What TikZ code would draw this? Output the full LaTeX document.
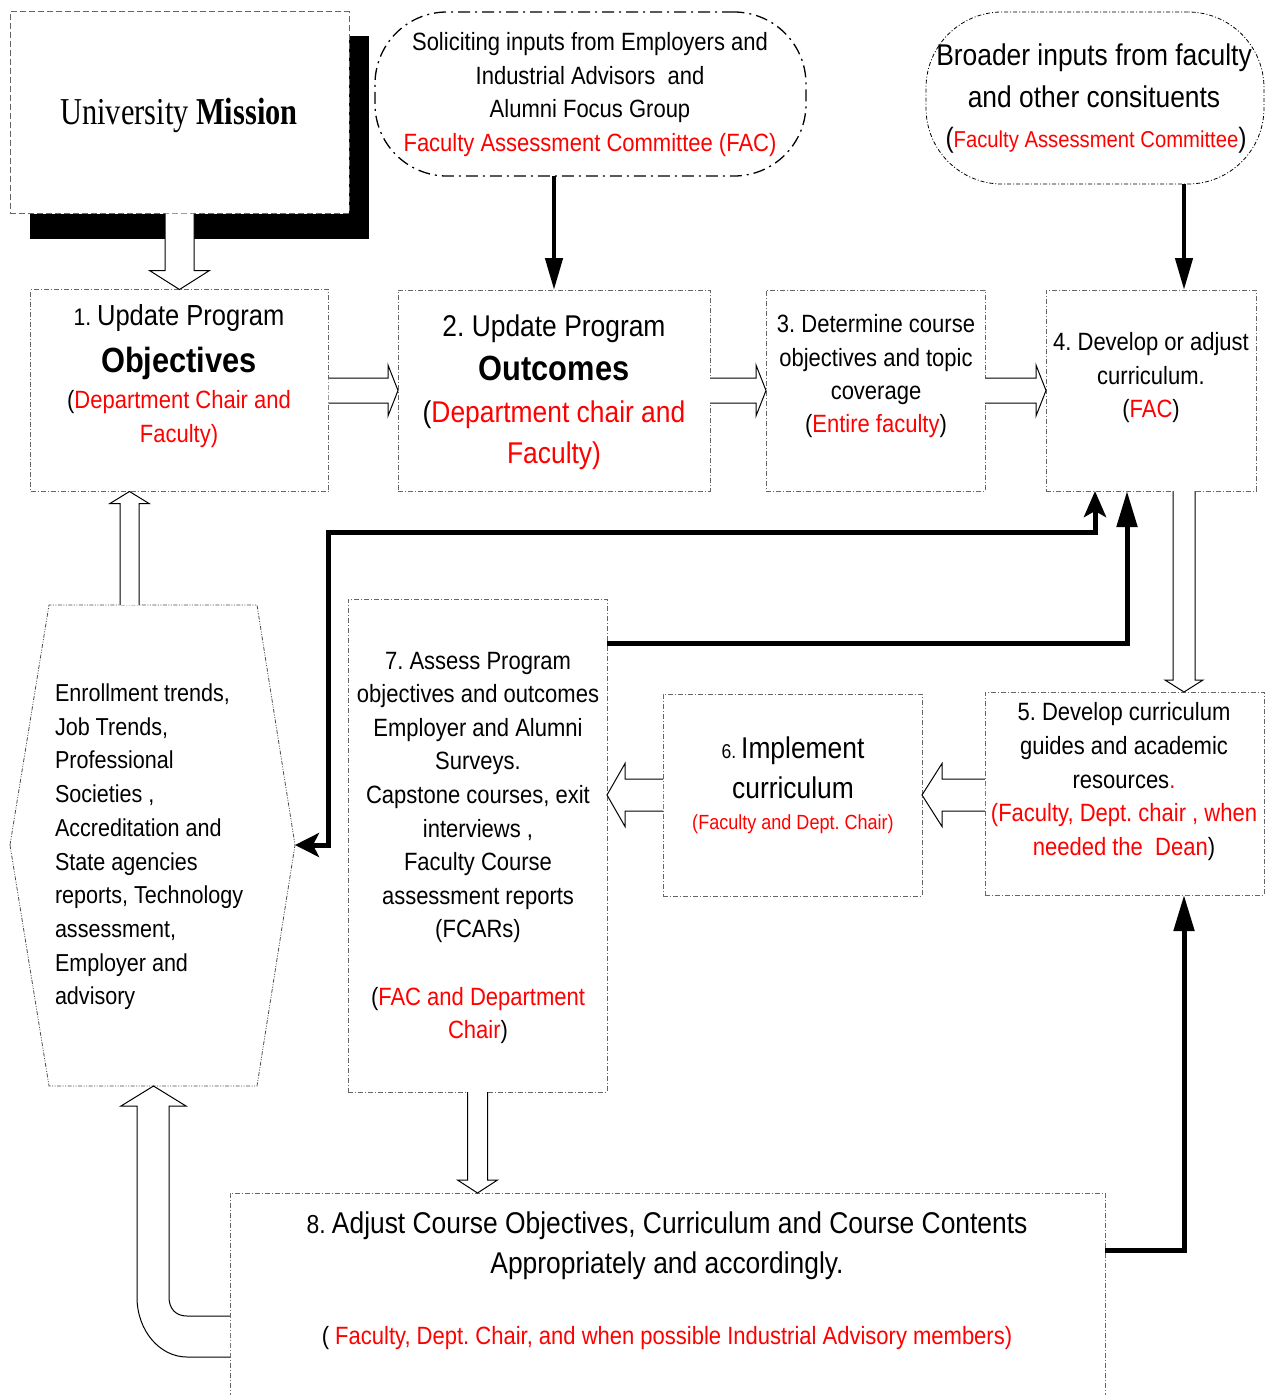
\documentclass[tikz,border=0pt]{standalone}
\usepackage{fontspec}
\setmainfont{Liberation Sans}[FakeStretch=0.88]
\newfontfamily\timesf{Liberation Serif}[FakeStretch=0.8]
\usetikzlibrary{arrows.meta,calc}
\definecolor{rd}{RGB}{255,0,0}
\newcommand\fs[1]{\fontsize{#1pt}{#1pt}\selectfont}
\newcommand\rt[1]{\textcolor{rd}{#1}}
% block arrows: start, tip, shaft half width, head half width, head length
\newcommand\barR[5]{\filldraw[barrow] let \p1=(#1),\p2=(#2) in (\x1,\y2+#3) -- (\x2-#5,\y2+#3) -- (\x2-#5,\y2+#4) -- (\p2) -- (\x2-#5,\y2-#4) -- (\x2-#5,\y2-#3) -- (\x1,\y2-#3);}
\newcommand\barL[5]{\filldraw[barrow] let \p1=(#1),\p2=(#2) in (\x1,\y2+#3) -- (\x2+#5,\y2+#3) -- (\x2+#5,\y2+#4) -- (\p2) -- (\x2+#5,\y2-#4) -- (\x2+#5,\y2-#3) -- (\x1,\y2-#3);}
\newcommand\barD[5]{\filldraw[barrow] let \p1=(#1),\p2=(#2) in (\x2-#3,\y1) -- (\x2-#3,\y2+#5) -- (\x2-#4,\y2+#5) -- (\p2) -- (\x2+#4,\y2+#5) -- (\x2+#3,\y2+#5) -- (\x2+#3,\y1);}
\newcommand\barU[5]{\filldraw[barrow] let \p1=(#1),\p2=(#2) in (\x2-#3,\y1) -- (\x2-#3,\y2-#5) -- (\x2-#4,\y2-#5) -- (\p2) -- (\x2+#4,\y2-#5) -- (\x2+#3,\y2-#5) -- (\x2+#3,\y1);}
\begin{document}
\frenchspacing
\begin{tikzpicture}[x=1pt,y=-1pt,
  box/.style={draw=black!60, line width=0.9pt, dash pattern=on 5pt off 2pt on 1pt off 2pt, fill=white, inner sep=0pt, outer sep=0pt},
  oval/.style={draw=black, fill=white, inner sep=0pt, outer sep=0pt},
  tx/.style={anchor=base, inner sep=0pt, outer sep=0pt, font=\frenchspacing},
  txl/.style={anchor=base west, inner sep=0pt, outer sep=0pt, font=\frenchspacing},
  barrow/.style={draw=black, fill=white, line width=1pt, line join=miter},
  conn/.style={line width=5pt, -{Triangle[length=36pt,width=20pt]}},
  connt/.style={line width=4.5pt, -{Triangle[length=32pt,width=17pt]}},
  connd/.style={line width=5pt, {Stealth[length=26pt,width=22pt,inset=6pt]}-{Stealth[length=24pt,width=24pt,inset=6pt]}}
]
\useasboundingbox (0,0) rectangle (1277,1395);
\fill[white] (0,0) rectangle (1277,1395);

% University mission with shadow
\fill[black] (30,36) rectangle (369,239);
\node[draw=black!60, line width=0.9pt, dash pattern=on 6pt off 3pt, fill=white, minimum width=339pt, minimum height=202pt, inner sep=0pt, outer sep=0pt] (mission) at (179.5,112.5) {};
\node[tx] (tm) at (179,124) {\timesf\fs{38}University \textbf{Mission}};

% input ovals
\node[oval, line width=1.3pt, dash pattern=on 12pt off 5pt on 2pt off 5pt, rounded corners=72pt, minimum width=431pt, minimum height=164pt] (sol) at (590.5,94) {};
\node[tx] (ts1) at (590,50.5) {\fs{25}Soliciting inputs from Employers and};
\node[tx] (ts2) at (590,84) {\fs{25}Industrial Advisors\ \ and};
\node[tx] (ts3) at (590,117.5) {\fs{25}Alumni Focus Group};
\node[tx] (ts4) at (590,151) {\fs{25}\rt{Faculty Assessment Committee (FAC)}};

\node[oval, line width=0.8pt, dash pattern=on 4pt off 2pt on 1pt off 2pt, rounded corners=76pt, minimum width=338pt, minimum height=172pt] (bro) at (1095,98) {};
\node[tx] (tb1) at (1094,65) {\fs{30}Broader inputs from faculty};
\node[tx] (tb2) at (1094,107) {\fs{30}and other consituents};
\node[tx] (tb3) at (1096,147) {\fs{28}(\fs{23}\rt{Faculty Assessment Committee}\fs{28})};

% main boxes
\node[box, minimum width=298pt, minimum height=202pt] (b1) at (179.5,390.5) {};
\node[tx] (t1a) at (179,325.5) {\fs{24}1. \fs{29}Update Program};
\node[tx] (t1b) at (179,372) {\fs{35}\bfseries Objectives};
\node[tx] (t1c) at (179,408.5) {\fs{25}(\rt{Department Chair and}};
\node[tx] (t1d) at (179,442) {\fs{25}\rt{Faculty)}};

\node[box, minimum width=312pt, minimum height=201pt] (b2) at (554,390.5) {};
\node[tx] (t2a) at (554,336.5) {\fs{30}2. Update Program};
\node[tx] (t2b) at (554,380) {\fs{35}\bfseries Outcomes};
\node[tx] (t2c) at (554,422) {\fs{30}(\rt{Department chair and}};
\node[tx] (t2d) at (554,463) {\fs{30}\rt{Faculty)}};

\node[box, minimum width=219pt, minimum height=201pt] (b3) at (875.5,390.5) {};
\node[tx] (t3a) at (876,332) {\fs{25}3. Determine course};
\node[tx] (t3b) at (876,366) {\fs{25}objectives and topic};
\node[tx] (t3c) at (876,399) {\fs{25}coverage};
\node[tx] (t3d) at (876,432.5) {\fs{25}(\rt{Entire faculty})};

\node[box, minimum width=210pt, minimum height=201pt] (b4) at (1151,390.5) {};
\node[tx] (t4a) at (1151,350) {\fs{25}4. Develop or adjust};
\node[tx] (t4b) at (1151,384) {\fs{25}curriculum.};
\node[tx] (t4c) at (1151,417.5) {\fs{25}(\rt{FAC})};

\node[box, minimum width=279pt, minimum height=203pt] (b5) at (1124.5,793.5) {};
\node[tx] (t5a) at (1124,720) {\fs{25}5. Develop curriculum};
\node[tx] (t5b) at (1124,754) {\fs{25}guides and academic};
\node[tx] (t5c) at (1124,788) {\fs{25}resources\rt{.}};
\node[tx] (t5d) at (1124,821) {\fs{25}\rt{(Faculty, Dept. chair , when}};
\node[tx] (t5e) at (1124,855) {\fs{25}\rt{needed the\ \ Dean})};

\node[box, minimum width=259pt, minimum height=202pt] (b6) at (792.5,795) {};
\node[tx] (t6a) at (793,758.5) {\fs{20}6. \fs{30}Implement};
\node[tx] (t6b) at (793,798.5) {\fs{30}curriculum};
\node[tx] (t6c) at (793,829.5) {\fs{20.5}\rt{(Faculty and Dept. Chair)}};

\node[box, minimum width=259pt, minimum height=493pt] (b7) at (477.5,845.5) {};
\foreach \t [count=\i] in {{7. Assess Program}, {objectives and outcomes}, {Employer and Alumni}, {Surveys.}, {Capstone courses, exit}, {interviews ,}, {Faculty Course}, {assessment reports}, {(FCARs)}, {}, {(\rt{FAC and Department}}, {\rt{Chair})}}
  \node[tx] (t7-\i) at (478,669+33.6*\i-33.6) {\fs{25}\t};

% hexagon of inputs
\draw[draw=black!70, line width=0.8pt, dash pattern=on 4pt off 1.5pt on 1pt off 1.5pt on 1pt off 1.5pt, fill=white] (10,845) -- (49,605) -- (257,605) -- (295,845) -- (257,1086) -- (49,1086) -- cycle;
\coordinate (hexT) at (152.5,605);
\coordinate (hexB) at (153.5,1086);
\coordinate (hexR) at (295,845);
\foreach \t [count=\i] in {{Enrollment trends,}, {Job Trends,}, {Professional}, {Societies ,}, {Accreditation and}, {State agencies}, {reports, Technology}, {assessment,}, {Employer and}, {advisory}}
  \node[txl] (th-\i) at (55,701.5+33.7*\i-33.7) {\fs{24.5}\t};

% box 8 (runs off the bottom)
\node[box, minimum width=875pt, minimum height=250pt] (b8) at (667.5,1318) {};
\node[tx] (t8a) at (667,1233.5) {\fs{26}8. \fs{30}Adjust Course Objectives, Curriculum and Course Contents};
\node[tx] (t8b) at (667,1273.5) {\fs{30}Appropriately and accordingly.};
\node[tx] (t8c) at (667,1344) {\fs{25}( \rt{Faculty, Dept. Chair, and when possible Industrial Advisory members)}};

% block arrows
\barD{mission.south}{b1.north}{14.5pt}{30pt}{19pt}
\barR{b1.east}{b2.west}{12.5pt}{25.5pt}{10pt}
\barR{b2.east}{b3.west}{12.5pt}{25.5pt}{10pt}
\barR{b3.east}{b4.west}{12.5pt}{25.5pt}{10pt}
\barD{$(b4.south)+(33,0)$}{$(b5.north)+(59.5,0)$}{11pt}{19pt}{12pt}
\barL{b5.west}{b6.east}{16pt}{31.5pt}{20pt}
\barL{b6.west}{$(b7.north east)+(0,196)$}{16pt}{31.5pt}{18pt}
\barU{$(hexT)+(-23,0)$}{$(b1.south)+(-50,0)$}{9.5pt}{19.5pt}{12pt}
\barD{b7.south}{b7.south |- b8.north}{10pt}{20pt}{13pt}
% L-shaped block arrow from box 8 to the hexagon
\filldraw[barrow] ($(b8.north west)+(0,123)$) -- (187,1316) .. controls (176,1316) and (169,1309) .. (169,1297) -- (169,1106) -- (186,1106) -- (hexB) -- (121,1106) -- (137,1106) -- (137,1297) .. controls (137,1331) and (160,1357) .. (187,1357) -- ($(b8.north west)+(0,164)$);

% thick connectors
\draw[connt] (b2.north |- sol.south) -- (b2.north);
\draw[connt] ($(bro.south)+(89,0)$) -- ($(b4.north)+(33,0)$);
\draw[conn] ($(b7.north east)+(0,44)$) -| ($(b4.south)+(-24,0)$);
\draw[connd] ($(b4.south)+(-56,0)$) |- ($(b1.south east)+(0,41)$) |- (hexR);
\draw[conn] ($(b8.north east)+(0,57)$) -| ($(b5.south)+(59.5,0)$);
\end{tikzpicture}
\end{document}
